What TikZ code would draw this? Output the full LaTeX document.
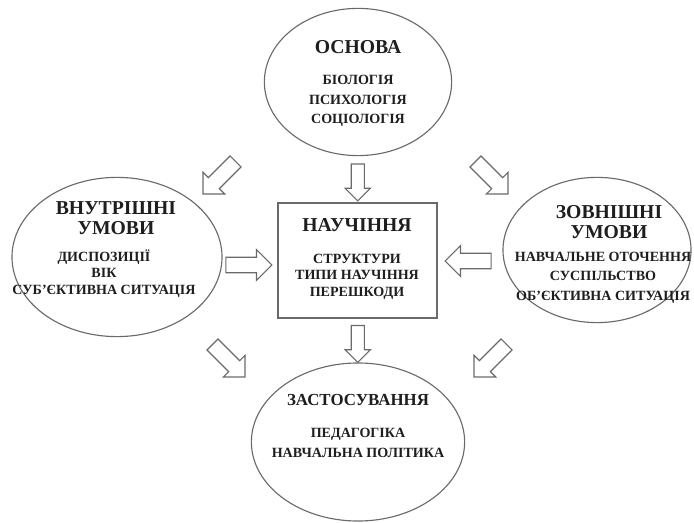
\documentclass[tikz,border=0pt]{standalone}
\usepackage{fontspec}
\setmainfont{Liberation Serif}
\usetikzlibrary{shapes.geometric,shapes.arrows,calc}

\definecolor{linegray}{HTML}{6A6A6A}
\definecolor{inkgray}{HTML}{1E1E1E}

\tikzset{
	oval/.style={ellipse, draw=linegray, line width=0.8pt, inner sep=0pt},
	frame/.style={rectangle, draw=linegray, line width=1.1pt, inner sep=0pt},
	title/.style={font=\fontsize{14}{14.2}\selectfont\bfseries, text=inkgray, align=center, inner sep=0pt},
	items/.style={font=\fontsize{10}{#1}\selectfont\bfseries, text=inkgray, align=center, inner sep=0pt},
	items/.default=14pt,
	blockarrow/.style={single arrow, draw=linegray, line width=0.8pt, fill=white, inner xsep=0pt,
		inner ysep=0.18cm, minimum height=1.15cm, single arrow head extend=0.19cm},
	smallarrow/.style={blockarrow, inner ysep=0.15cm, minimum height=0.92cm, single arrow head extend=0.15cm}
}

\begin{document}
\begin{tikzpicture}[x=0.025cm, y=-0.025cm]
	\useasboundingbox[fill=white] (0,0) rectangle (694,523);

	% Kreise und Kasten
	\node[oval, minimum width=4.68cm, minimum height=3.68cm] (osnova) at (358,82) {};
	\node[oval, minimum width=5.25cm, minimum height=3.98cm] (vnutr) at (117,257) {};
	\node[oval, minimum width=4.7cm, minimum height=3.63cm] (zovn) at (597,250) {};
	\node[oval, minimum width=5.33cm, minimum height=3.95cm] (zastos) at (358,442) {};
	\node[frame, minimum width=3.98cm, minimum height=2.88cm] (nauch) at (357.5,260.5) {};

	% Texte
	\node[title] (osnovaT) at (358,47) {ОСНОВА};
	\node[items] (osnovaL) at (358,101) {БІОЛОГІЯ\\ПСИХОЛОГІЯ\\СОЦІОЛОГІЯ};
	\node[title] (vnutrT) at (116,218) {ВНУТРІШНІ\\УМОВИ};
	\node[items=11.8pt] (vnutrL) at (104,273.5) {ДИСПОЗИЦІЇ\\ВІК\\СУБ’ЄКТИВНА СИТУАЦІЯ};
	\node[title] (nauchT) at (357,225) {НАУЧІННЯ};
	\node[items=11.8pt] (nauchL) at (357,276.5) {СТРУКТУРИ\\ТИПИ НАУЧІННЯ\\ПЕРЕШКОДИ};
	\node[title] (zovnT) at (609,222) {ЗОВНІШНІ\\УМОВИ};
	\node[items=13.8pt] (zovnL) at (603,277.5) {НАВЧАЛЬНЕ ОТОЧЕННЯ\\СУСПІЛЬСТВО\\ОБ’ЄКТИВНА СИТУАЦІЯ};
	\node[title, font=\fontsize{12}{12}\selectfont\bfseries] (zastosT) at (358,400) {ЗАСТОСУВАННЯ};
	\node[items] (zastosL) at (358,443) {ПЕДАГОГІКА\\НАВЧАЛЬНА ПОЛІТИКА};

	% Pfeile
	\node[smallarrow, rotate=-90] (pOben) at ($(osnova.south)!0.5!(nauch.north)$) {};
	\node[smallarrow, rotate=-90] (pUnten) at ($(nauch.south)!0.5!(zastos.north)$) {};
	\node[blockarrow] (pLinks) at (245,265) {};
	\node[blockarrow, rotate=180] (pRechts) at (472,261) {};
	\node[blockarrow, rotate=-135] (pLO) at (222,175) {};
	\node[blockarrow, rotate=-45] (pRO) at (489,175) {};
	\node[blockarrow, rotate=-45] (pLU) at (226,358) {};
	\node[blockarrow, rotate=-135] (pRU) at (493,358) {};
\end{tikzpicture}
\end{document}
